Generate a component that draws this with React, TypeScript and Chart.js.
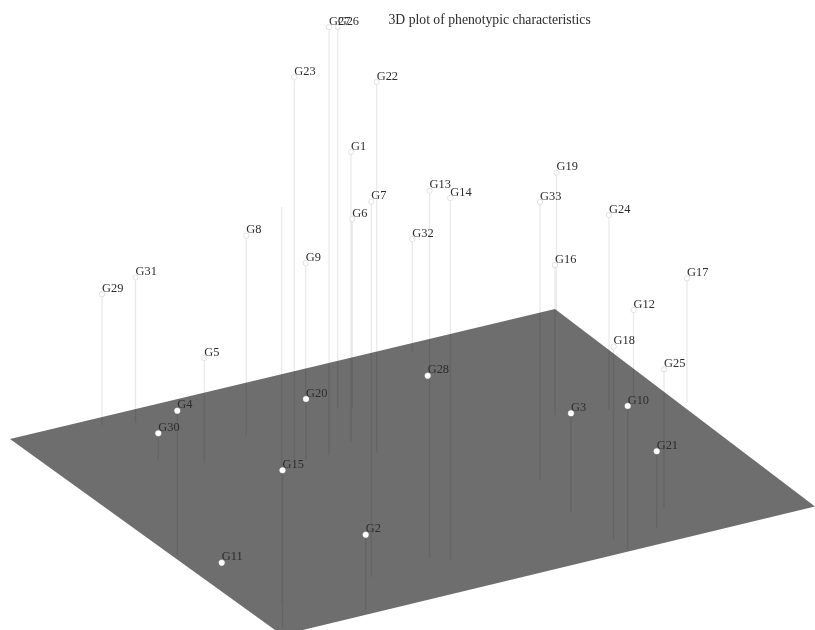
import React, { useEffect, useRef } from "react";
import { Chart, registerables } from "chart.js";

Chart.register(...registerables);

const chartTitle = "3D plot of phenotypic characteristics";

// Projected genotype positions, in the picture's projected units.
const genotypes = ["G1","G2","G3","G4","G5","G6","G7","G8","G9","G10","G11","G12","G13","G14","G15","G16","G17","G18","G19","G20","G21","G22","G23","G24","G25","G26","G27","G28","G29","G30","G31","G32","G33"];
const projectedX = [351,365.7,571,177.3,204.3,352.3,371.3,246.3,305.7,627.7,221.7,633.5,429.5,450.3,282.5,555,687,613.5,556.5,306,656.7,376.7,294.3,609,664,337.7,329,427.7,102,158.3,135.5,412.3,540];
const projectedTop = [152,534.7,413.3,410.7,358,219,201.7,235.7,263,406,562.7,310,190.7,198,470.3,265,278.3,346.7,172.7,399,451.3,82,77.3,215,369.3,27,27,375.7,294.3,433.3,277.3,239,202];
const projectedBase = [441.7,610,512,555,463,408,577,435,400,550,562.7,398,558,560,628,415,403,540,310,460,528,453,460,410,508,408,455,375.7,425,460,423,352,480];
// true: drawn over the plane as a solid white dot; false: floating above it.
const onPlane = [false,true,true,true,false,false,false,false,false,true,true,false,false,false,true,false,false,false,false,true,true,false,false,false,false,false,false,true,false,true,false,false,false];

// One extra stem in the picture that has no marker or label.
const unlabeledStemX = 281.8;
const unlabeledStemTop = 207;
const unlabeledStemBase = 603;

const planeX = [10, 555, 815, 282, 10];
const planeY = [439, 309, 506.5, 635, 439];

const PLANE_COLOR = "#6e6e6e";
const STEM_COLOR = "rgba(0,0,0,0.085)";
const TEXT_COLOR = "#2c2c2c";
const LABEL_FONT = '12.4px "Liberation Serif"';
const TITLE_FONT = '13.7px "Liberation Serif"';

const textPlugin = {
  id: "genotypeText",
  afterDatasetsDraw(chart: any) {
    const { ctx, scales } = chart;
    ctx.save();
    ctx.fillStyle = TEXT_COLOR;
    ctx.textBaseline = "middle";
    ctx.textAlign = "left";
    ctx.font = LABEL_FONT;
    genotypes.forEach((name, i) => {
      ctx.fillText(name, scales.x.getPixelForValue(projectedX[i]), scales.y.getPixelForValue(projectedTop[i]) - 5.5);
    });
    ctx.font = TITLE_FONT;
    ctx.fillText(chartTitle, scales.x.getPixelForValue(388.5), scales.y.getPixelForValue(20.5));
    ctx.restore();
  },
};

export default function App() {
  const ref = useRef<HTMLCanvasElement>(null);
  useEffect(() => {
    const stems: any[] = [];
    genotypes.forEach((_, i) => {
      stems.push({ x: projectedX[i], y: projectedTop[i] }, { x: projectedX[i], y: projectedBase[i] }, { x: projectedX[i], y: null });
    });
    stems.push({ x: unlabeledStemX, y: unlabeledStemTop }, { x: unlabeledStemX, y: unlabeledStemBase });
    const pts = (flag: boolean) =>
      genotypes.flatMap((_, i) => (onPlane[i] === flag ? [{ x: projectedX[i], y: projectedTop[i] }] : []));

    const chart = new Chart(ref.current!, {
      type: "scatter",
      data: {
        datasets: [
          {
            label: "Plane",
            data: planeX.map((x, i) => ({ x, y: planeY[i] })),
            showLine: true,
            fill: "shape",
            backgroundColor: PLANE_COLOR,
            borderColor: PLANE_COLOR,
            borderWidth: 0,
            pointRadius: 0,
            tension: 0,
            order: 4,
          },
          {
            label: "Stems",
            data: stems,
            showLine: true,
            spanGaps: false,
            fill: false,
            borderColor: STEM_COLOR,
            borderWidth: 1.3,
            pointRadius: 0,
            tension: 0,
            order: 3,
          },
          {
            label: "Above plane",
            data: pts(false),
            pointRadius: 2.7,
            pointBackgroundColor: "#ffffff",
            pointBorderColor: "#e2e2e2",
            pointBorderWidth: 1,
            order: 2,
          },
          {
            label: "On plane",
            data: pts(true),
            pointRadius: 2.8,
            pointBackgroundColor: "#ffffff",
            pointBorderColor: "#ffffff",
            pointBorderWidth: 0.5,
            order: 1,
          },
        ],
      } as any,
      options: {
        animation: false,
        responsive: false,
        layout: { padding: 0, autoPadding: false },
        plugins: { legend: { display: false }, tooltip: { enabled: false }, title: { display: false } },
        scales: {
          x: { type: "linear", min: 0, max: 815, display: false },
          y: { type: "linear", min: 0, max: 630, reverse: true, display: false },
        },
      },
      plugins: [textPlugin],
    });
    return () => chart.destroy();
  }, []);

  return (
    <canvas
      ref={ref}
      width={815}
      height={630}
      style={{ position: "absolute", left: 0, top: 0, width: 815, height: 630, display: "block", filter: "blur(0.45px)" }}
    />
  );
}
